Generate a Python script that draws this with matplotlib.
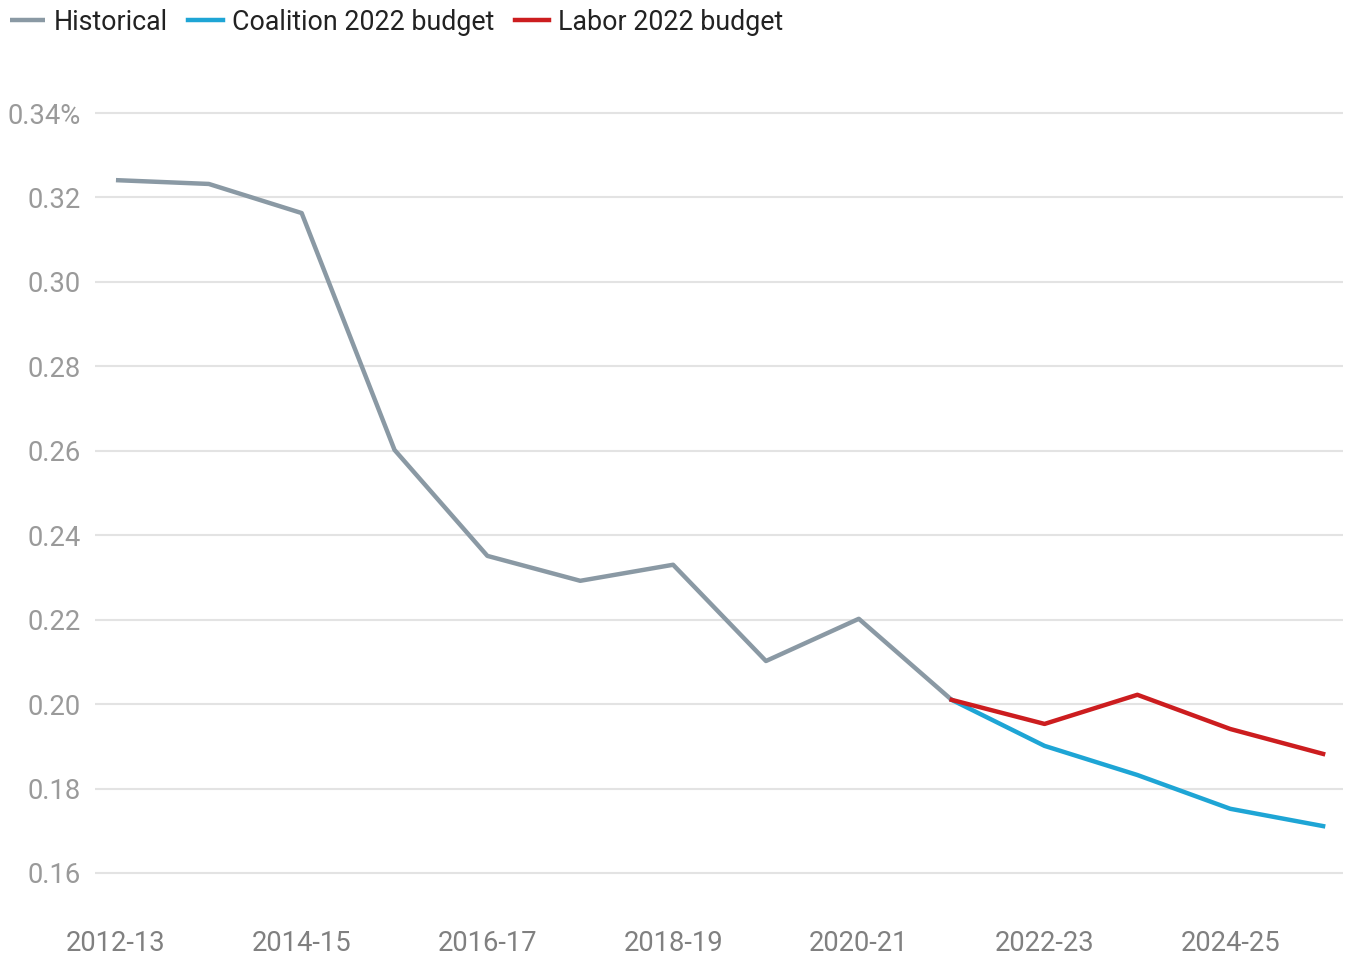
import numpy as np
import matplotlib.pyplot as plt

plt.rcParams['font.family'] = ['Roboto', 'DejaVu Sans']

years = ['2012-13', '2013-14', '2014-15', '2015-16', '2016-17', '2017-18', '2018-19',
         '2019-20', '2020-21', '2021-22', '2022-23', '2023-24', '2024-25', '2025-26']

historical = [0.3241, 0.3232, 0.3163, 0.2602, 0.2351, 0.2292, 0.2330, 0.2102, 0.2202, 0.2010]
coalition = [0.2010, 0.1901, 0.1832, 0.1752, 0.1711]
labor = [0.2010, 0.1953, 0.2022, 0.1941, 0.1882]

x = np.arange(len(years))
x_hist = x[:len(historical)]
x_proj = x[len(historical) - 1:]

fig = plt.figure(figsize=(13.49, 9.58), dpi=100)
ax = fig.add_axes([0.0704, 0.0447, 0.9252, 0.8814])

ax.plot(x_hist, historical, color='#8a99a4', lw=3.2, label='Historical', solid_capstyle='butt')
ax.plot(x_proj, coalition, color='#1ea5d5', lw=3.2, label='Coalition 2022 budget')
ax.plot(x_proj, labor, color='#cc1d1f', lw=3.2, label='Labor 2022 budget')

ax.set_xlim(-0.226, 13.215)
ax.set_ylim(0.15, 0.35)

yt = np.arange(0.16, 0.3401, 0.02)
ax.set_yticks(yt)
ax.set_yticklabels([f'{v:.2f}%' if i == len(yt) - 1 else f'{v:.2f}' for i, v in enumerate(yt)])
ax.set_xticks(x[::2])
ax.set_xticklabels(years[::2])

ax.grid(axis='y', color='#e3e3e3', lw=1.5)
ax.set_axisbelow(True)
for s in ax.spines.values():
    s.set_visible(False)
ax.tick_params(axis='both', length=0, labelsize=19.7)
ax.tick_params(axis='y', pad=10, labelcolor='#9a9a9a')
ax.tick_params(axis='x', pad=11, labelcolor='#808080')

fig.legend(loc='upper left', bbox_to_anchor=(10 / 1349, 0.991), ncol=3, frameon=False,
           fontsize=19.3, handlelength=1.3, handletextpad=0.34, columnspacing=0.75,
           borderpad=0, borderaxespad=0, labelcolor='#222222')

fig.savefig('out.png', dpi=100)
